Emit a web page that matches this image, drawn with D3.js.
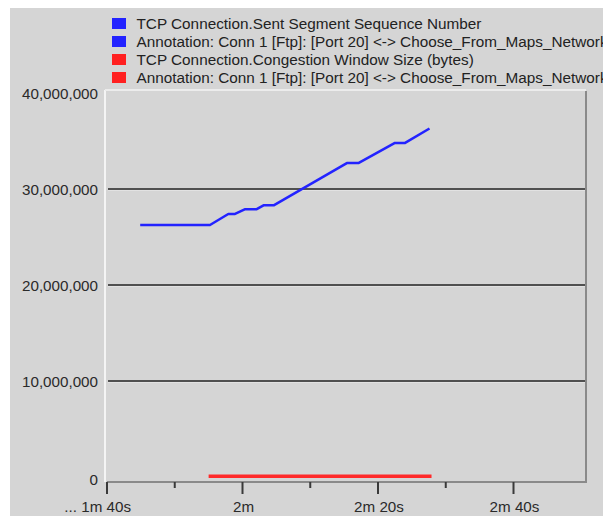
<!DOCTYPE html>
<html>
<head>
<meta charset="utf-8">
<script src="https://cdn.jsdelivr.net/npm/d3@7"></script>
<style>
  html, body { margin: 0; padding: 0; background: #ffffff; }
  svg { display: block; }
  text { font-family: "Liberation Sans", Arial, sans-serif; }
</style>
</head>
<body>
<script>
// ---- data ----
const legendLabels = [
  "TCP Connection.Sent Segment Sequence Number",
  "Annotation: Conn 1 [Ftp]: [Port 20] <-> Choose_From_Maps_Network",
  "TCP Connection.Congestion Window Size (bytes)",
  "Annotation: Conn 1 [Ftp]: [Port 20] <-> Choose_From_Maps_Network"
];
const legendColors = ["#2323ff", "#2323ff", "#ff2020", "#ff2020"];

// Sent segment sequence number (time in seconds, value)
const seqTimes  = [104.9, 115.2, 117.9, 118.9, 120.4, 122.1, 123.1, 124.6, 135.4, 137.1, 142.5, 144.0, 147.6];
const seqValues = [26250000, 26250000, 27400000, 27400000, 27900000, 27900000, 28300000, 28300000, 32700000, 32700000, 34800000, 34800000, 36300000];

// Congestion window size (bytes)
const cwndTimes  = [115.0, 130.0, 147.9];
const cwndValues = [65535, 65535, 65535];

const yTicks = [0, 10000000, 20000000, 30000000, 40000000];
const yGridTicks = [10000000, 20000000, 30000000];
const xMajorTicks = [100, 120, 140, 160];
const xMinorTicks = [110, 130, 150];
const xTickLabels = ["... 1m 40s", "2m", "2m 20s", "2m 40s"];

// ---- layout ----
const W = 603, H = 516;
const svg = d3.select("body").append("svg").attr("width", W).attr("height", H);

// outer grey panel
svg.append("rect").attr("x", 10).attr("y", 8).attr("width", W - 10).attr("height", H - 8).attr("fill", "#d5d5d5");

const x = d3.scaleLinear().domain([100, 170.7]).range([107, 586]);
const y = d3.scaleLinear().domain([0, 40000000]).range([477, 93]);

const plotTop = 90, plotBottom = 482, plotLeft = 105, plotRight = 586;

// plot frame (3D look)
svg.append("line").attr("x1", plotLeft).attr("x2", plotLeft).attr("y1", plotTop).attr("y2", plotBottom)
  .attr("stroke", "#f4f4f4").attr("stroke-width", 2);
svg.append("line").attr("x1", plotLeft).attr("x2", plotRight).attr("y1", plotTop).attr("y2", plotTop)
  .attr("stroke", "#ececec").attr("stroke-width", 2);
svg.append("line").attr("x1", plotRight).attr("x2", plotRight).attr("y1", plotTop + 1).attr("y2", plotBottom)
  .attr("stroke", "#8a8a8a").attr("stroke-width", 2);

// gridlines
svg.append("g").selectAll("line").data(yGridTicks).join("line")
  .attr("x1", 108).attr("x2", plotRight - 1)
  .attr("y1", d => y(d)).attr("y2", d => y(d))
  .attr("stroke", "#505050").attr("stroke-width", 2);
svg.append("g").selectAll("line").data(yGridTicks).join("line")
  .attr("x1", 108).attr("x2", plotRight - 1)
  .attr("y1", d => y(d) + 1.5).attr("y2", d => y(d) + 1.5)
  .attr("stroke", "#e2e2e2").attr("stroke-width", 1);

// y labels
svg.append("g").selectAll("text").data(yTicks).join("text")
  .attr("x", 98).attr("y", d => y(d) + (d === 0 ? 2 : 0))
  .attr("text-anchor", "end").attr("dominant-baseline", "central")
  .attr("font-size", 15.2).attr("fill", "#2a2a2a")
  .text(d => d3.format(",")(d));

// x axis line
svg.append("line").attr("x1", 107).attr("x2", plotRight + 1).attr("y1", plotBottom).attr("y2", plotBottom)
  .attr("stroke", "#8a8a8a").attr("stroke-width", 2);

// ticks
svg.append("g").selectAll("line").data(xMajorTicks).join("line")
  .attr("x1", d => x(d)).attr("x2", d => x(d)).attr("y1", plotBottom).attr("y2", 494)
  .attr("stroke", "#3a3a3a").attr("stroke-width", 2);
svg.append("g").selectAll("line").data(xMinorTicks).join("line")
  .attr("x1", d => x(d)).attr("x2", d => x(d)).attr("y1", plotBottom).attr("y2", 488)
  .attr("stroke", "#3a3a3a").attr("stroke-width", 2);

// x labels
svg.append("g").selectAll("text").data(xMajorTicks).join("text")
  .attr("x", (d, i) => i === 0 ? x(d) + 24 : x(d) + 1)
  .attr("y", 512)
  .attr("text-anchor", (d, i) => i === 0 ? "end" : "middle")
  .attr("font-size", 15.2).attr("fill", "#2a2a2a")
  .text((d, i) => xTickLabels[i]);

// lines
const line = d3.line().x(d => x(d[0])).y(d => y(d[1]));
svg.append("path").datum(cwndTimes.map((t, i) => [t, cwndValues[i]]))
  .attr("d", line).attr("fill", "none").attr("stroke", "#ff2a2a").attr("stroke-width", 3.5);
svg.append("path").datum(seqTimes.map((t, i) => [t, seqValues[i]]))
  .attr("d", line).attr("fill", "none").attr("stroke", "#2323ff").attr("stroke-width", 2.5)
  .attr("stroke-linejoin", "round");

// legend
const leg = svg.append("g").selectAll("g").data(legendLabels).join("g")
  .attr("transform", (d, i) => `translate(112, ${18 + i * 18})`);
leg.append("rect").attr("width", 14).attr("height", 11).attr("fill", (d, i) => legendColors[i]);
leg.append("text").attr("x", 24.5).attr("y", 5.5).attr("dominant-baseline", "central")
  .attr("font-size", 15.3).attr("fill", "#222").text(d => d);
</script>
</body>
</html>
